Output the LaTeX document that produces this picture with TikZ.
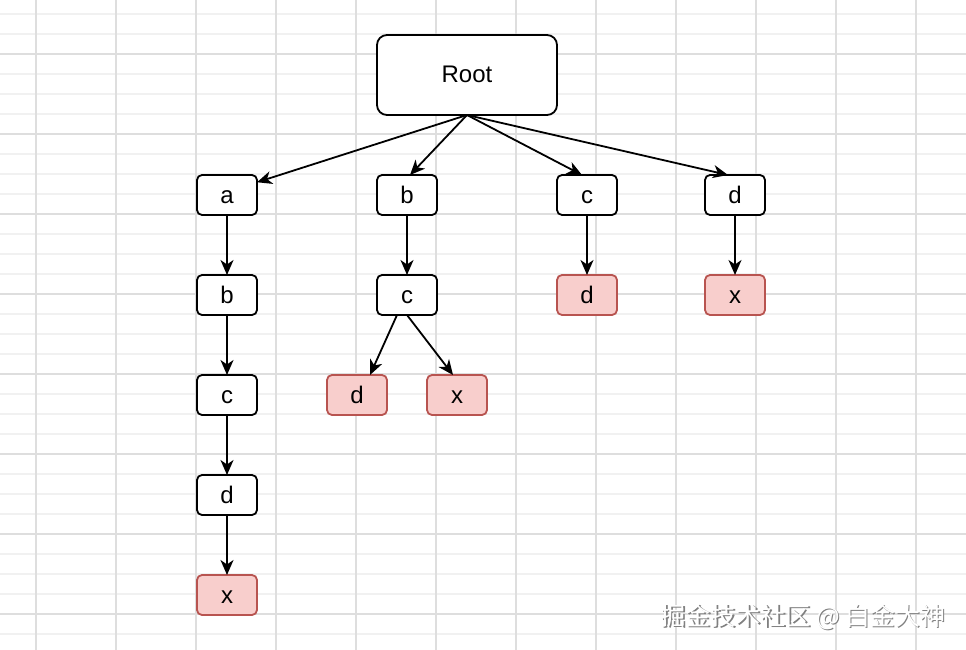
\documentclass[tikz,border=0pt]{standalone}
\usepackage{fontspec}
\setmainfont{Liberation Sans}
\newfontfamily\cjk{Noto Sans CJK SC}
\usetikzlibrary{arrows.meta,positioning}
\definecolor{gridmaj}{HTML}{DEDEDE}
\definecolor{gridmin}{HTML}{F1F1F1}
\definecolor{leaffill}{HTML}{F8CECC}
\definecolor{leafdraw}{HTML}{B85450}

\begin{document}
\begin{tikzpicture}[x=1pt,y=-1pt,->,>={Stealth[length=15pt,width=13pt,inset=4.5pt]},
                    line width=1.8pt,node distance=60pt,
                    font=\fontsize{24}{27}\selectfont]
  \tikzstyle{box}=[rectangle,draw=black,fill=white,rounded corners=5pt,outer sep=0pt,
                   minimum width=60pt,minimum height=40pt,inner sep=0pt,
                   text height=20pt,text depth=4pt]
  \tikzstyle{leaf}=[box,draw=leafdraw,fill=leaffill]
  \tikzstyle{top}=[box,minimum width=180pt,minimum height=80pt,rounded corners=10pt]
  \tikzstyle{gridline}=[-,line width=1.2pt]

  \useasboundingbox (0,0) rectangle (966,650);
  \fill[white] (0,0) rectangle (966,650);
  % background grid
  \foreach \y in {14,34,...,634}
    \draw[gridline,gridmin] (0,\y) -- (966,\y);
  \foreach \x in {36,116,...,916}
    \draw[gridline,gridmaj] (\x,0) -- (\x,650);
  \foreach \y in {54,134,...,614}
    \draw[gridline,gridmaj] (0,\y) -- (966,\y);

  \node[top] (root) at (467,75) {Root};

  \node[box] (a1) at (227,195) {a};
  \node[box,below=of a1] (a2) {b};
  \node[box,below=of a2] (a3) {c};
  \node[box,below=of a3] (a4) {d};
  \node[leaf,below=of a4] (a5) {x};

  \node[box] (b1) at (407,195) {b};
  \node[box,below=of b1] (b2) {c};
  \node[leaf] (b3) at (357,395) {d};
  \node[leaf] (b4) at (457,395) {x};

  \node[box] (c1) at (587,195) {c};
  \node[leaf,below=of c1] (c2) {d};

  \node[box] (d1) at (735,195) {d};
  \node[leaf,below=of d1] (d2) {x};

  \draw (root.south) -- (a1.23);
  \draw (root.south) -- ([xshift=3pt]b1.north);
  \draw (root.south) -- ([xshift=-5pt]c1.north);
  \draw (root.south) -- ([xshift=-7pt]d1.north);

  \draw (a1) -- (a2);
  \draw (a2) -- (a3);
  \draw (a3) -- (a4);
  \draw (a4) -- (a5);

  \draw (b1) -- (b2);
  \draw ([xshift=-10pt]b2.south) -- ([xshift=13pt]b3.north);
  \draw (b2.south) -- ([xshift=-4pt]b4.north);

  \draw (c1) -- (c2);
  \draw (d1) -- (d2);

  % watermark
  \node[text=black!50] (wmshade) at (804.5,618.5)
    {\cjk\fontsize{25}{25}\selectfont 掘金技术社区 @ 白金大神};
  \node[text=white] (wm) at (803,617)
    {\cjk\fontsize{25}{25}\selectfont 掘金技术社区 @ 白金大神};
\end{tikzpicture}
\end{document}
